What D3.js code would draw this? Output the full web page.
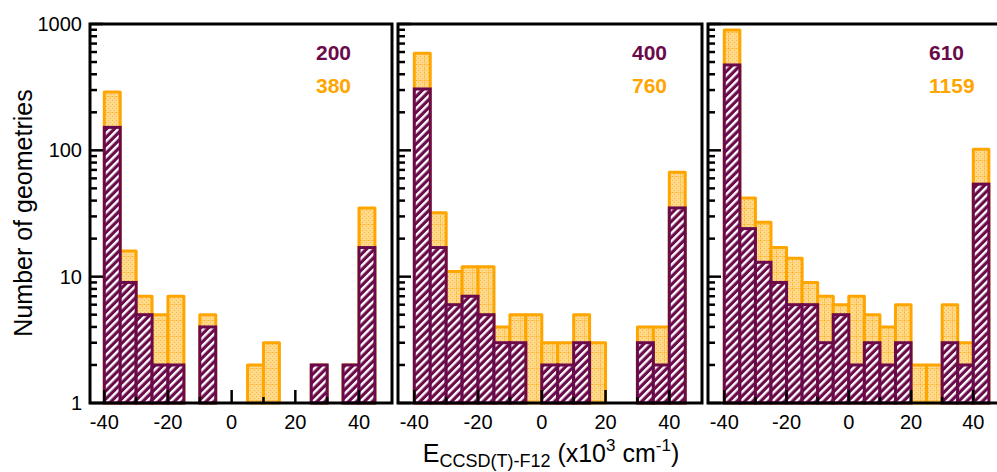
<!DOCTYPE html>
<html><head><meta charset="utf-8">
<script src="https://cdn.jsdelivr.net/npm/d3@7"></script>
<style>
html,body{margin:0;padding:0;background:#fff;}
svg{display:block;font-family:"Liberation Sans",Arial,Helvetica,sans-serif;}
</style></head>
<body>
<svg id="chart" width="997" height="472"></svg>
<script>
// ---- data ----
const binStarts = [-40,-35,-30,-25,-20,-15,-10,-5,0,5,10,15,20,25,30,35,40];
const binWidth = 5;
const p1Large = [290,16,7,5,7,0,5,0,0,2,3,0,0,2,0,2,35];
const p1Small = [152,9,5,2,2,0,4,0,0,0,0,0,0,2,0,2,17];
const p2Large = [586,32,11,12,12,4,5,5,3,3,5,3,0,0,4,4,67];
const p2Small = [306,17,6,7,5,3,3,0,2,2,3,0,0,0,3,2,35];
const p3Large = [897,42,27,17,14,9,7,6,7,5,4,6,2,2,6,3,102];
const p3Small = [474,24,13,9,6,6,3,5,2,3,2,3,0,0,3,2,54];
const smallTotals = ["200","400","610"];
const largeTotals = ["380","760","1159"];
const xTickValues = [-40,-30,-20,-10,0,10,20,30,40];
const xTickLabels = ["-40","-20","0","20","40"];
const yTickLabels = ["1","10","100","1000"];

// ---- layout ----
const purple = "#6b0a4a", orange = "#ffa500";
const svg = d3.select("#chart");
const yTop = 24, yBot = 403;
const panels = [
  {left:90, right:392, x0:104.3, x1:359.0, leg:316, large:p1Large, small:p1Small},
  {left:398, right:702, x0:414.3, x1:669.3, leg:632, large:p2Large, small:p2Small},
  {left:708, right:1012, x0:724.3, x1:973.3, leg:929, large:p3Large, small:p3Small}
];
const y = d3.scaleLog().domain([1,1000]).range([yBot, yTop]);

// patterns
const defs = svg.append("defs");
const hp = defs.append("pattern").attr("id","hatch").attr("patternUnits","userSpaceOnUse")
  .attr("width",5.6).attr("height",5.6).attr("patternTransform","rotate(45)");
hp.append("rect").attr("width",5.6).attr("height",5.6).attr("fill",purple);
hp.append("rect").attr("x",0).attr("width",2.4).attr("height",5.6).attr("fill","#fff");

const op = defs.append("pattern").attr("id","dots").attr("patternUnits","userSpaceOnUse")
  .attr("width",16).attr("height",16);
op.append("rect").attr("width",16).attr("height",16).attr("fill","#ffd98c");
for (let i=0;i<16;i+=2) for (let j=0;j<16;j+=2) {
  if (((i+j)/2)%2===0) op.append("rect").attr("x",i).attr("y",j).attr("width",1).attr("height",1).attr("fill","#ffb73a");
}
op.append("line").attr("x1",0).attr("x2",16).attr("y1",0.5).attr("y2",0.5).attr("stroke","#ffb020").attr("stroke-width",0.8).attr("opacity",0.6);
op.append("line").attr("y1",0).attr("y2",16).attr("x1",8.5).attr("x2",8.5).attr("stroke","#ffb020").attr("stroke-width",0.8).attr("opacity",0.6);

panels.forEach((p, pi) => {
  const x = d3.scaleLinear().domain([-40,40]).range([p.x0, p.x1]);
  const g = svg.append("g");
  // larger set (orange) bars
  g.selectAll("rect.large").data(binStarts.map((b,i)=>({b, v:p.large[i]})).filter(d=>d.v>0))
    .enter().append("rect")
    .attr("x", d=>x(d.b)).attr("width", d=>x(d.b+binWidth)-x(d.b))
    .attr("y", d=>y(d.v)).attr("height", d=>y(1)-y(d.v))
    .attr("fill","url(#dots)").attr("stroke",orange).attr("stroke-width",3)
    .attr("stroke-linejoin","round");
  // smaller set (purple) bars
  g.selectAll("rect.small").data(binStarts.map((b,i)=>({b, v:p.small[i]})).filter(d=>d.v>0))
    .enter().append("rect")
    .attr("x", d=>x(d.b)).attr("width", d=>x(d.b+binWidth)-x(d.b))
    .attr("y", d=>y(d.v)).attr("height", d=>y(1)-y(d.v))
    .attr("fill","url(#hatch)").attr("stroke",purple).attr("stroke-width",3);

  // frame
  g.append("rect").attr("x",p.left).attr("y",yTop).attr("width",p.right-p.left).attr("height",yBot-yTop)
    .attr("fill","none").attr("stroke","#000").attr("stroke-width",3);

  // y ticks (inward)
  const yMajors = [1,10,100,1000];
  const yMinors = [];
  [1,10,100].forEach(d=>{ for(let k=2;k<=9;k++) yMinors.push(d*k); });
  g.selectAll("line.ymaj").data(yMajors).enter().append("line")
    .attr("x1",p.left).attr("x2",p.left+13).attr("y1",d=>y(d)).attr("y2",d=>y(d))
    .attr("stroke","#000").attr("stroke-width",2.5);
  g.selectAll("line.ymin").data(yMinors).enter().append("line")
    .attr("x1",p.left).attr("x2",p.left+7).attr("y1",d=>y(d)).attr("y2",d=>y(d))
    .attr("stroke","#000").attr("stroke-width",2.5);

  // x ticks (inward)
  g.selectAll("line.xt").data(xTickValues).enter().append("line")
    .attr("x1",d=>x(d)).attr("x2",d=>x(d))
    .attr("y1",yBot).attr("y2",d=> (d%20===0) ? yBot-13 : yBot-6)
    .attr("stroke","#000").attr("stroke-width",2.5);
  g.selectAll("text.xl").data(xTickLabels).enter().append("text")
    .attr("x",d=>x(+d)).attr("y",429).attr("text-anchor","middle")
    .attr("font-size",20).attr("fill","#000").text(d=>d);

  if (pi===0) {
    g.selectAll("text.yl").data(yTickLabels).enter().append("text")
      .attr("x",82).attr("y",d=>y(+d)+7).attr("text-anchor","end")
      .attr("font-size",20).attr("fill","#000").text(d=>d);
  }

  // legend totals
  g.append("text").attr("x",p.leg).attr("y",60).attr("font-size",21).attr("font-weight","bold")
    .attr("fill",purple).text(smallTotals[pi]);
  g.append("text").attr("x",p.leg).attr("y",93).attr("font-size",21).attr("font-weight","bold")
    .attr("fill",orange).text(largeTotals[pi]);
});

// axis titles
svg.append("text").attr("transform","translate(32,213) rotate(-90)").attr("text-anchor","middle")
  .attr("font-size",25).attr("fill","#000").text("Number of geometries");

const xt = svg.append("text").attr("x",551).attr("y",462).attr("text-anchor","middle")
  .attr("font-size",25).attr("fill","#000");
xt.append("tspan").text("E");
xt.append("tspan").attr("font-size",18).attr("dy",5).text("CCSD(T)-F12");
xt.append("tspan").attr("dy",-5).text(" (x10");
xt.append("tspan").attr("font-size",17).attr("dy",-11).text("3");
xt.append("tspan").attr("dy",11).text(" cm");
xt.append("tspan").attr("font-size",17).attr("dy",-11).text("-1");
xt.append("tspan").attr("dy",11).text(")");
</script>
</body></html>
